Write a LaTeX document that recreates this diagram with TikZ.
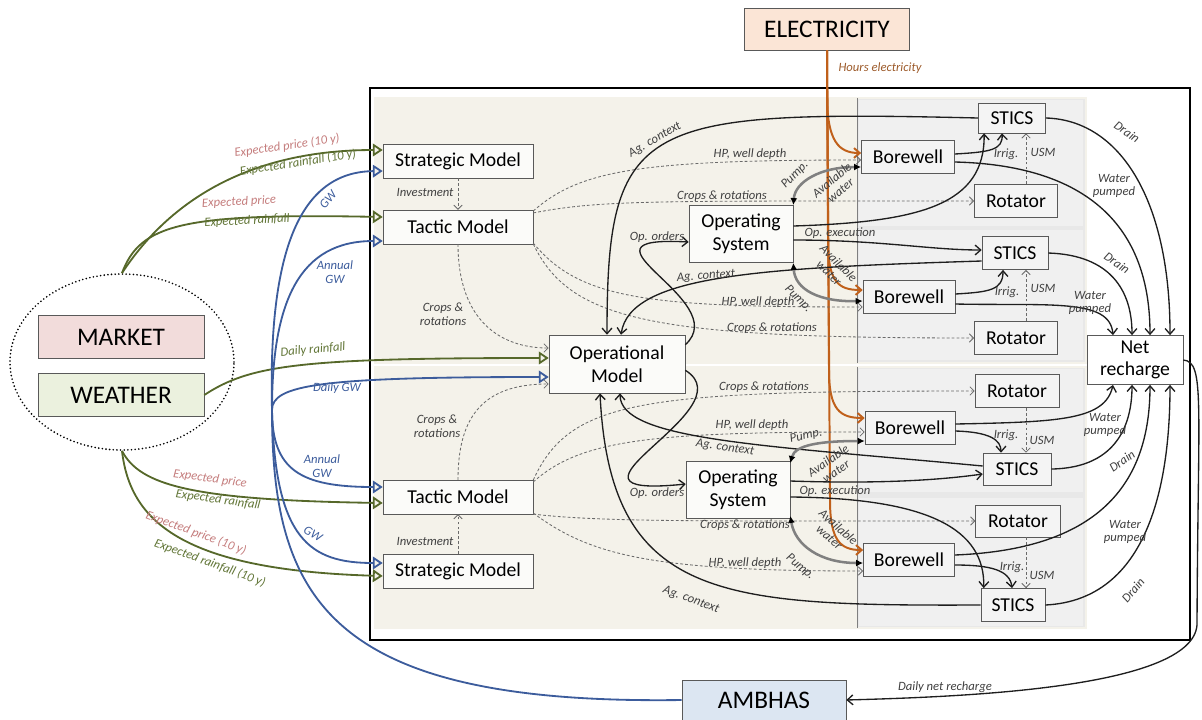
\documentclass[tikz,border=0pt]{standalone}
\usepackage{fontspec}
\setmainfont{Carlito}
\usetikzlibrary{arrows.meta}
\usetikzlibrary{shapes.geometric}
\usetikzlibrary{calc}

\definecolor{boxline}{HTML}{595959}
\definecolor{modelfill}{HTML}{FBFBF9}
\definecolor{farmfill}{HTML}{F4F4F4}
\definecolor{panelbg}{HTML}{F4F2EA}
\definecolor{farmbg}{HTML}{E8E8E8}
\definecolor{framegray}{HTML}{7F7F7F}
\definecolor{lblgray}{HTML}{404040}
\definecolor{flowc}{HTML}{1E1E1E}
\definecolor{plangray}{HTML}{6A6A6A}
\definecolor{pumpgray}{HTML}{808080}
\definecolor{olivec}{HTML}{56682A}
\definecolor{pricec}{HTML}{C47C7C}
\definecolor{rainc}{HTML}{617536}
\definecolor{gwc}{HTML}{3C5C9C}
\definecolor{elecc}{HTML}{C0601A}
\definecolor{hoursc}{HTML}{9C5A2A}
\definecolor{elecfill}{HTML}{FBE5D6}
\definecolor{marketfill}{HTML}{F2DCDB}
\definecolor{weatherfill}{HTML}{EBF1DE}
\definecolor{ambhasfill}{HTML}{DCE6F2}

\tikzset{
  model/.style={draw=boxline, fill=modelfill, font=\fontsize{14}{16}\selectfont, align=center, inner sep=1pt, minimum width=3.75cm, minimum height=0.84cm},
  opbox/.style={model, minimum width=2.6cm, minimum height=1.43cm},
  farmbox/.style={draw=boxline, fill=farmfill, font=\fontsize{14}{16}\selectfont, align=center, inner sep=1pt, minimum height=0.83cm},
  bigbox/.style={draw=boxline, font=\fontsize{18}{20}\selectfont, inner sep=1pt},
  lbl/.style={font=\fontsize{9}{9.6}\selectfont\itshape, text=lblgray, inner sep=0.5pt, align=center},
  flow/.style={draw=flowc, line width=0.95pt, -{Straight Barb[length=4pt,width=7pt]}},
  plan/.style={draw=plangray, line width=0.6pt, dash pattern=on 2pt off 1.5pt, -{Straight Barb[length=3pt,width=6pt]}},
  pumpline/.style={draw=pumpgray, line width=1.8pt, {Latex[length=5pt,width=5pt,color=black]}-{Latex[length=5pt,width=5pt,color=black]}},
  input/.style={draw=olivec, line width=1.3pt, -{Triangle[open,length=7pt,width=9pt]}},
  gwline/.style={draw=gwc, line width=1.3pt},
  gwin/.style={gwline, -{Triangle[open,length=7pt,width=9pt]}},
  elecline/.style={draw=elecc, line width=1.4pt, -{Straight Barb[length=4pt,width=7pt]}},
  panel/.style={draw=framegray, double=panelbg, double distance=1.2pt},
  farmframe/.style={draw=framegray, fill=farmfill!70!farmbg, double=farmfill!70!farmbg, double distance=1pt}
}

\begin{document}
\begin{tikzpicture}[x=0.025cm, y=-0.025cm]
  \useasboundingbox (0,0) rectangle (1202,719);

  % frames of the simulated area
  \draw[line width=1.2pt] (370,88) rectangle (1190,640);
  \fill[panelbg] (375,98) rectangle (1086,363);
  \fill[panelbg] (375,367) rectangle (1086,628);
  \fill[farmbg] (857,98) rectangle (1086,363);
  \fill[farmbg] (857,367) rectangle (1086,628);
  \draw[panel] (375,98) rectangle (1086,363);
  \draw[panel] (375,367) rectangle (1086,628);
  \draw[framegray] (857,98) -- (857,363);
  \draw[framegray] (857,367) -- (857,628);
  \draw[farmframe] (860,101) rectangle (1082,225);
  \draw[farmframe] (860,231) rectangle (1082,359);
  \draw[farmframe] (860,370) rectangle (1082,491);
  \draw[farmframe] (860,499) rectangle (1082,625);

  % outside
  \node[draw, ellipse, line width=1.3pt, dash pattern=on 0pt off 2.6pt, line cap=round, minimum width=5.6cm, minimum height=4.4cm] (src) at (122,362) {};
  \node[bigbox, fill=marketfill, minimum width=4.15cm, minimum height=1.075cm] (market) at (121,337) {MARKET};
  \node[bigbox, fill=weatherfill, minimum width=4.15cm, minimum height=1.075cm] (weather) at (121,395) {WEATHER};
  \node[bigbox, fill=elecfill, minimum width=4.125cm, minimum height=1.05cm] (elec) at (827,29) {ELECTRICITY};
  \node[bigbox, fill=ambhasfill, minimum width=4.1cm, minimum height=1cm] (ambhas) at (764,700) {AMBHAS};

  % decision models
  \node[model] (stratA) at (458,161) {Strategic Model};
  \node[model] (tactA) at (458,227) {Tactic Model};
  \node[model, minimum width=3.4cm, minimum height=1.45cm] (oper) at (617,364) {Operational\\Model};
  \node[opbox] (osA) at (741,234) {Operating\\System};
  \node[model] (tactB) at (458,497) {Tactic Model};
  \node[model] (stratB) at (458,571) {Strategic Model};
  \node[opbox] (osB) at (738,490) {Operating\\System};

  % farms
  \node[farmbox, minimum width=1.68cm, minimum height=0.75cm] (sticsA) at (1012,118) {STICS};
  \node[farmbox, minimum width=2.33cm] (bwA) at (908,157) {Borewell};
  \node[farmbox, minimum width=2.08cm] (rotA) at (1016,201) {Rotator};
  \node[farmbox, minimum width=1.65cm] (sticsB) at (1015,253) {STICS};
  \node[farmbox, minimum width=2.3cm] (bwB) at (909,297) {Borewell};
  \node[farmbox, minimum width=2.08cm] (rotB) at (1016,338) {Rotator};
  \node[farmbox, minimum width=2.1cm] (rotC) at (1017,391) {Rotator};
  \node[farmbox, minimum width=2.25cm] (bwC) at (910,428) {Borewell};
  \node[farmbox, minimum width=1.7cm, minimum height=0.8cm] (sticsC) at (1017,469) {STICS};
  \node[farmbox, minimum width=2.12cm, minimum height=0.8cm] (rotD) at (1018,521) {Rotator};
  \node[farmbox, minimum width=2.28cm] (bwD) at (909,560) {Borewell};
  \node[farmbox, minimum width=1.6cm] (sticsD) at (1013,605) {STICS};
  \node[farmbox, fill=white, minimum width=2.4cm, minimum height=1.23cm] (net) at (1135,360) {Net\\recharge};

  % market and weather
  \draw[input] (src.north) .. controls (170,200) and (250,150) .. ($(stratA.west)+(0,-11)$);
  \draw[input] (src.north) .. controls (140,225) and (180,213) .. ($(tactA.west)+(0,-10)$);
  \draw[input] (src.south) .. controls (140,485) and (190,500) .. ($(tactB.west)+(0,6)$);
  \draw[input] (src.south) .. controls (130,520) and (180,570) .. ($(stratB.west)+(0,5)$);
  \draw[input] (weather.east) .. controls (250,365) and (300,358) .. ($(oper.west)+(0,-6)$);

  % groundwater
  \coordinate (gw) at (272,410);
  \draw[gwline] (ambhas.west) .. controls (330,705) and (272,600) .. (gw);
  \draw[gwin] (gw) .. controls (268,250) and (300,172) .. ($(stratA.west)+(0,10)$);
  \draw[gwin] (gw) .. controls (272,300) and (300,241) .. ($(tactA.west)+(0,14)$);
  \draw[gwin] (gw) .. controls (272,385) and (320,377) .. ($(oper.west)+(0,13)$);
  \draw[gwin] (gw) .. controls (272,470) and (300,487) .. ($(tactB.west)+(0,-10)$);
  \draw[gwin] (gw) .. controls (275,540) and (310,563) .. ($(stratB.west)+(0,-8)$);

  % electricity
  \draw[elecline] (elec.south) -- (827,100) .. controls (828,140) and (838,153) .. ($(bwA.west)+(0,-4)$);
  \draw[elecline] (elec.south) -- (828,240) .. controls (828,282) and (838,290) .. ($(bwB.west)+(0,-7)$);
  \draw[elecline] (elec.south) -- (829,370) .. controls (829,410) and (840,418) .. ($(bwC.west)+(0,-10)$);
  \draw[elecline] (elec.south) -- (830,500) .. controls (830,540) and (840,550) .. ($(bwD.west)+(0,-10)$);

  % planning links (upper half)
  \draw[plan] (stratA.south) -- (tactA.north);
  \draw[plan] (tactA.south) .. controls (458,320) and (500,348) .. ($(oper.west)+(0,-16)$);
  \draw[plan] ($(tactA.north east)+(0,1)$) .. controls (580,170) and (640,160) .. ($(bwA.west)+(0,3)$);
  \draw[plan] ($(tactA.north east)+(0,3)$) .. controls (600,200) and (650,201) .. (rotA.west);
  \draw[plan] ($(tactA.south east)+(0,-1)$) .. controls (580,300) and (650,307) .. ($(bwB.west)+(0,10)$);
  \draw[plan] (tactA.south east) .. controls (570,320) and (650,338) .. (rotB.west);

  % planning links (lower half)
  \draw[plan] (stratB.north) -- (tactB.south);
  \draw[plan] (tactB.north) .. controls (458,420) and (480,384) .. ($(oper.west)+(0,20)$);
  \draw[plan] (tactB.north east) .. controls (570,400) and (640,391) .. (rotC.west);
  \draw[plan] ($(tactB.north east)+(0,2)$) .. controls (580,440) and (650,432) .. ($(bwC.west)+(0,4)$);
  \draw[plan] (tactB.south east) .. controls (600,522) and (700,521) .. (rotD.west);
  \draw[plan] ($(tactB.south east)+(0,-1)$) .. controls (590,555) and (650,571) .. ($(bwD.west)+(0,11)$);

  % operations
  \draw[flow] (sticsA.west) .. controls (640,110) and (607,120) .. ($(oper.north)+(-10,0)$);
  \draw[flow] ($(sticsB.west)+(0,8)$) .. controls (760,268) and (630,275) .. ($(oper.north)+(4,0)$);
  \draw[flow] ($(oper.north east)+(0,10)$) .. controls (735,300) and (560,235) .. ($(osA.west)+(0,8)$);
  \draw[flow] ($(osA.east)+(0,-8)$) .. controls (920,222) and (985,205) .. ($(sticsA.south west)+(6,0)$);
  \draw[flow] ($(osA.east)+(0,6)$) .. controls (880,240) and (930,250) .. ($(sticsB.west)+(0,-3)$);
  \draw[flow] ($(sticsC.west)+(0,-3)$) .. controls (760,445) and (620,440) .. ($(oper.south)+(3,0)$);
  \draw[flow] (sticsD.west) .. controls (720,606) and (610,600) .. ($(oper.south)+(-17,0)$);
  \draw[flow] ($(oper.south east)+(0,-23)$) .. controls (750,410) and (530,500) .. ($(osB.west)+(0,-6)$);
  \draw[flow] ($(osB.east)+(0,-9)$) .. controls (880,484) and (940,480) .. ($(sticsC.west)+(0,5)$);
  \draw[flow] ($(osB.east)+(0,7)$) .. controls (930,498) and (985,530) .. ($(sticsD.north west)+(3,0)$);

  \draw[pumpline] (osA.north east) .. controls (795,182) and (820,167) .. ($(bwA.west)+(0,10)$);
  \draw[pumpline] (osA.south east) .. controls (795,290) and (820,302) .. ($(bwB.west)+(0,4)$);
  \draw[pumpline] ($(osB.north east)+(0,2)$) .. controls (795,445) and (820,441) .. ($(bwC.west)+(0,13)$);
  \draw[pumpline] ($(osB.south east)+(0,-3)$) .. controls (795,545) and (820,563) .. ($(bwD.west)+(0,3)$);

  % inside the farms
  \draw[flow] ($(bwA.east)+(0,-3)$) .. controls (990,152) and (1003,150) .. ($(sticsA.south)+(-10,0)$);
  \draw[plan] ($(rotA.north)+(10,0)$) -- ($(sticsA.south)+(14,0)$);
  \draw[flow] ($(bwB.east)+(0,-3)$) .. controls (990,292) and (1003,290) .. ($(sticsB.south)+(-12,0)$);
  \draw[plan] ($(rotB.north)+(10,0)$) -- ($(sticsB.south)+(11,0)$);
  \draw[flow] ($(bwC.east)+(0,3)$) .. controls (990,432) and (1001,440) .. ($(sticsC.north)+(-16,0)$);
  \draw[plan] ($(rotC.south)+(9,0)$) -- ($(sticsC.north)+(9,0)$);
  \draw[flow] ($(bwD.east)+(0,5)$) .. controls (990,565) and (1010,570) .. ($(sticsD.north)+(-1,0)$);
  \draw[plan] ($(rotD.south)+(8,0)$) -- ($(sticsD.north)+(13,0)$);

  % to net recharge
  \draw[flow] (sticsA.east) .. controls (1120,120) and (1170,200) .. ($(net.north)+(35,0)$);
  \draw[flow] ($(bwA.east)+(0,5)$) .. controls (1080,165) and (1150,220) .. ($(net.north)+(15,0)$);
  \draw[flow] (sticsB.east) .. controls (1110,255) and (1132,290) .. ($(net.north)+(-3,0)$);
  \draw[flow] ($(bwB.east)+(0,7)$) .. controls (1050,306) and (1110,298) .. ($(net.north)+(-22,0)$);
  \draw[flow] ($(bwC.east)+(0,-4)$) .. controls (1060,422) and (1105,420) .. ($(net.south)+(-22,0)$);
  \draw[flow] (sticsC.east) .. controls (1120,468) and (1132,420) .. ($(net.south)+(-3,0)$);
  \draw[flow] ($(bwD.east)+(0,-5)$) .. controls (1080,550) and (1150,500) .. ($(net.south)+(15,0)$);
  \draw[flow] (sticsD.east) .. controls (1150,600) and (1170,480) .. ($(net.south)+(35,0)$);

  \coordinate (turn) at (1197,625);
  \draw[flow] (net.east) .. controls (1205,362) and (1198,400) .. (turn) .. controls (1192,690) and (950,697) .. (ambhas.east);

  % labels
  \node[lbl, text=pricec, rotate=8] (lPrA) at (287,146) {Expected price (10 y)};
  \node[lbl, text=rainc, rotate=9] (lRnA) at (298,163) {Expected rainfall (10 y)};
  \node[lbl, text=pricec, rotate=3] (lPrB) at (239,202) {Expected price};
  \node[lbl, text=rainc, rotate=3] (lRnB) at (247,221) {Expected rainfall};
  \node[lbl, text=pricec, rotate=-8] (lPrC) at (210,479) {Expected price};
  \node[lbl, text=rainc, rotate=-8] (lRnC) at (218,500) {Expected rainfall};
  \node[lbl, text=pricec, rotate=-20] (lPrD) at (196,533) {Expected price (10 y)};
  \node[lbl, text=rainc, rotate=-20] (lRnD) at (210,563) {Expected rainfall (10 y)};
  \node[lbl, text=rainc, rotate=5] (lDrf) at (313,350) {Daily rainfall};
  \node[lbl, text=gwc, rotate=50] (lGwA) at (328,200) {GW};
  \node[lbl, text=gwc] (lAgwA) at (335,272) {Annual\\GW};
  \node[lbl, text=gwc] (lDgw) at (337,388) {Daily GW};
  \node[lbl, text=gwc] (lAgwB) at (322,466) {Annual\\GW};
  \node[lbl, text=gwc, rotate=-30] (lGwB) at (313,534) {GW};
  \node[lbl, text=hoursc] (lHours) at (880,68) {Hours electricity};

  \node[lbl] (lInvA) at (425,192) {Investment};
  \node[lbl] (lCrOA) at (443,314) {Crops \&\\rotations};
  \node[lbl] (lHpA) at (750,154) {HP, well depth};
  \node[lbl] (lCrA) at (722,196) {Crops \& rotations};
  \node[lbl] (lHpB) at (758,302) {HP, well depth};
  \node[lbl] (lCrB) at (772,328) {Crops \& rotations};
  \node[lbl] (lInvB) at (425,541) {Investment};
  \node[lbl] (lCrOB) at (437,426) {Crops \&\\rotations};
  \node[lbl] (lCrC) at (764,387) {Crops \& rotations};
  \node[lbl] (lHpC) at (752,425) {HP, well depth};
  \node[lbl] (lCrD) at (745,525) {Crops \& rotations};
  \node[lbl] (lHpD) at (745,563) {HP, well depth};

  \node[lbl, rotate=30] (lAgA) at (655,140) {Ag. context};
  \node[lbl, rotate=4] (lAgB) at (706,276) {Ag. context};
  \node[lbl, rotate=-8] (lAgC) at (725,448) {Ag. context};
  \node[lbl, rotate=-20] (lAgD) at (691,600) {Ag. context};
  \node[lbl] (lOrdA) at (657,237) {Op. orders};
  \node[lbl] (lOrdB) at (657,493) {Op. orders};
  \node[lbl] (lExeA) at (840,233) {Op. execution};
  \node[lbl] (lExeB) at (835,491) {Op. execution};

  \node[lbl, rotate=45] (lPumpA) at (795,175) {Pump.};
  \node[lbl, rotate=40] (lAvA) at (836,185) {Available\\water};
  \node[lbl, rotate=-45] (lAvB) at (834,268) {Available\\water};
  \node[lbl, rotate=-45] (lPumpB) at (798,299) {Pump.};
  \node[lbl, rotate=12] (lPumpC) at (806,436) {Pump.};
  \node[lbl, rotate=35] (lAvC) at (832,466) {Available\\water};
  \node[lbl, rotate=-42] (lAvD) at (834,532) {Available\\water};
  \node[lbl, rotate=-40] (lPumpD) at (800,567) {Pump.};

  \node[lbl] (lIrA) at (1006,154) {Irrig.};
  \node[lbl] (lUsmA) at (1043,152) {USM};
  \node[lbl] (lIrB) at (1007,292) {Irrig.};
  \node[lbl] (lUsmB) at (1043,288) {USM};
  \node[lbl] (lIrC) at (1006,435) {Irrig.};
  \node[lbl] (lUsmC) at (1042,440) {USM};
  \node[lbl] (lIrD) at (1012,567) {Irrig.};
  \node[lbl] (lUsmD) at (1042,575) {USM};

  \node[lbl, rotate=-35] (lDrA) at (1127,132) {Drain};
  \node[lbl] (lWpA) at (1114,186) {Water\\pumped};
  \node[lbl, rotate=-35] (lDrB) at (1117,263) {Drain};
  \node[lbl] (lWpB) at (1090,303) {Water\\pumped};
  \node[lbl] (lWpC) at (1105,425) {Water\\pumped};
  \node[lbl, rotate=35] (lDrC) at (1122,461) {Drain};
  \node[lbl] (lWpD) at (1125,532) {Water\\pumped};
  \node[lbl, rotate=50] (lDrD) at (1133,590) {Drain};
  \node[lbl] (lNetR) at (945,687) {Daily net recharge};
\end{tikzpicture}
\end{document}
